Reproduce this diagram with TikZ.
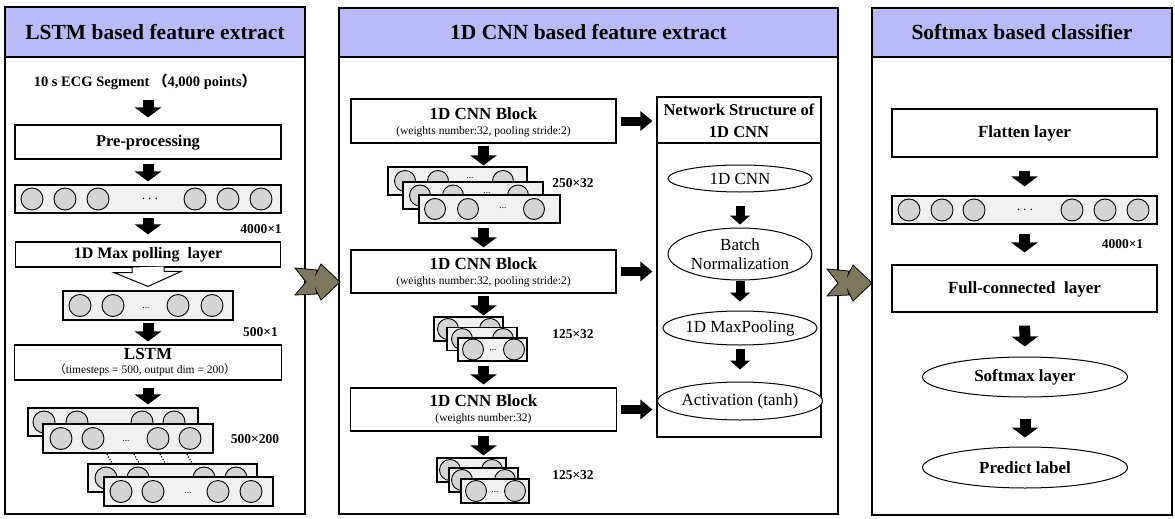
\documentclass[tikz,border=0pt]{standalone}
\usepackage{fontspec}
\setmainfont{Liberation Serif}
\newfontfamily\cjk{Noto Sans CJK SC}
\usetikzlibrary{arrows.meta,shapes.geometric}
\definecolor{hdr}{RGB}{186,186,247}
\definecolor{rowfill}{RGB}{241,241,241}
\definecolor{cfill}{RGB}{212,212,212}
\definecolor{chev}{RGB}{125,119,94}
\newcommand{\fs}[2]{\fontsize{#1}{#2}\selectfont}
\newcommand{\myLP}{{\cjk （}}
\newcommand{\myRP}{{\cjk ）}}
\begin{document}
\begin{tikzpicture}[x=1pt,y=-1pt,
  panel/.style={draw, line width=2pt, inner sep=0pt},
  hdrbox/.style={draw, line width=1.6pt, fill=hdr, inner sep=0pt, font=\fs{21.5}{24}\bfseries},
  box/.style={draw, line width=1.1pt, fill=white, inner sep=0pt},
  row/.style={draw, line width=1.1pt, fill=rowfill, inner sep=0pt},
  dot/.style={circle, draw, line width=0.9pt, fill=cfill, minimum size=22pt, inner sep=0pt},
  sdot/.style={dot, minimum size=21pt},
  barrow/.style={line width=11pt, -{Triangle[width=26pt,length=10pt]}},
  sarrow/.style={line width=9pt, -{Triangle[width=19pt,length=12pt]}},
  narrow/.style={line width=9pt, -{Triangle[width=20pt,length=9pt]}},
  ell/.style={ellipse, draw, line width=1pt, inner sep=0pt, fill=white},
  txt/.style={inner sep=0pt, anchor=base},
  bt/.style={txt, font=\fs{17}{20}\bfseries},
  st/.style={txt, font=\fs{11.5}{13}},
  dimt/.style={txt, font=\fs{13.5}{16}\bfseries},
  smalldots/.style={inner sep=0pt, font=\fs{9.5}{9.5}},
  chevron/.style={draw, line width=0.8pt, fill=chev, line join=miter},
]
\useasboundingbox (0,0) rectangle (1175,519);

% ---------------- panels ----------------
\node[panel, minimum width=300, minimum height=457] (p1) at (155,285.5) {};
\node[hdrbox, minimum width=300, minimum height=50] (h1) at (155,32) {LSTM based feature extract};
\node[panel, minimum width=499, minimum height=457] (p2) at (588.5,285.5) {};
\node[hdrbox, minimum width=499, minimum height=49] (h2) at (588.5,32.5) {1D CNN based feature extract};
\node[panel, minimum width=300, minimum height=458] (p3) at (1022,286) {};
\node[hdrbox, minimum width=300, minimum height=49] (h3) at (1022,32.5) {Softmax based classifier};

% ---------------- left panel ----------------
\node[txt, font=\fs{14.5}{17}\bfseries] (seg) at (145,86) {10 s ECG Segment \myLP4,000 points\myRP};
\node[box, minimum width=266, minimum height=34] (pre) at (148,142) {};
\node[txt, font=\fs{16.5}{19}\bfseries] (preT) at (148,146.7) {Pre-processing};
\node[row, minimum width=266, minimum height=28] (r1) at (148,199) {};
\foreach \x [count=\i] in {32,65,98,195,228,261} \node[dot] (r1c\i) at (\x,199) {};
\node[inner sep=0pt] (r1d) at (150,199) {\fs{15}{15}$\cdots$};
\node[dimt] (d1) at (261,233.3) {4000×1};
\node[box, minimum width=265, minimum height=25] (mp) at (148,254.5) {};
\node[txt, font=\fs{16}{19}\bfseries] (mpT) at (148,258.5) {1D Max polling\ \ layer};
\node[row, minimum width=170, minimum height=29] (r2) at (148,305.5) {};
\foreach \x [count=\i] in {80,113,178,212} \node[dot] (r2c\i) at (\x,305.5) {};
\node[smalldots] (r2d) at (146,308) {...};
\filldraw[fill=white, draw=black, line width=1pt] ([xshift=-16pt]mp.south) -- ++(0,5) -- ++(-18,0) -- ([yshift=4pt]r2.north) -- ++(33,-15) -- ++(-17,0) -- ++(0,-5);
\node[dimt] (d2) at (260.5,336) {500×1};
\node[box, minimum width=267, minimum height=35] (lstm) at (148,362.5) {};
\node[txt, font=\fs{17}{20}\bfseries] (lstmT) at (148,359) {LSTM};
\node[st] (lstmS) at (145,373) {\myLP timesteps = 500, output dim = 200\myRP};
% stacked outputs
\node[row, minimum width=170, minimum height=28] (sA) at (113,422) {};
\foreach \x [count=\i] in {44,77,142,174} \node[dot] (sAc\i) at (\x,422) {};
\node[row, minimum width=170, minimum height=29] (sB) at (128,438.5) {};
\foreach \x [count=\i] in {61,93,158,190} \node[dot] (sBc\i) at (\x,438.5) {};
\node[smalldots] (sBd) at (126,441) {...};
\foreach \x in {110,137,163,190} \draw[line width=1.2pt, dash pattern=on 1.2pt off 1.6pt] (\x-3,454) -- (\x+2,463);
\node[row, minimum width=169, minimum height=28] (sC) at (172.5,478) {};
\foreach \x [count=\i] in {106,138,204,236} \node[dot] (sCc\i) at (\x,478) {};
\node[row, minimum width=169, minimum height=29] (sD) at (188.5,491.5) {};
\foreach \x [count=\i] in {121,153,218,251} \node[dot] (sDc\i) at (\x,491.5) {};
\node[smalldots] (sDd) at (188,493) {...};
\node[dimt] (d3) at (255,443) {500×200};
% arrows
\draw[barrow, shorten <=11pt, shorten >=7pt] (seg.south -| pre.north) -- (pre);
\draw[barrow, shorten <=4pt, shorten >=3pt] (pre) -- (r1);
\draw[barrow, shorten <=4pt, shorten >=7pt] (r1) -- (mp);
\draw[barrow, shorten <=2pt, shorten >=3pt] (r2) -- (lstm);
\draw[barrow, shorten <=7pt, shorten >=3pt] (lstm) -- (lstm |- sA.north);

% ---------------- middle panel ----------------
\node[box, minimum width=265, minimum height=44] (b1) at (483.5,121) {};
\node[bt] (b1T) at (483.5,119) {1D CNN Block};
\node[st] (b1S) at (483.5,134) {(weights number:32, pooling stride:2)};
\node[row, minimum width=139, minimum height=28] (s1a) at (457.5,181) {};
\foreach \x [count=\i] in {405,438,503} \node[sdot] (s1ac\i) at (\x,181) {};
\node[smalldots] (s1ad) at (470,178) {...};
\node[row, minimum width=140, minimum height=27] (s1b) at (473,195.5) {};
\foreach \x [count=\i] in {420,453,518} \node[sdot] (s1bc\i) at (\x,195.5) {};
\node[smalldots] (s1bd) at (487,193) {...};
\node[row, minimum width=141, minimum height=28] (s1c) at (489.5,209) {};
\foreach \x [count=\i] in {435,468,534} \node[sdot] (s1cc\i) at (\x,209) {};
\node[smalldots] (s1cd) at (503,208) {...};
\node[dimt] (d4) at (573,187) {250×32};
\node[box, minimum width=265, minimum height=43] (b2) at (483.5,271.5) {};
\node[bt] (b2T) at (483.5,269) {1D CNN Block};
\node[st] (b2S) at (483.5,284) {(weights number:32, pooling stride:2)};
\node[row, minimum width=69, minimum height=24] (s2a) at (468.5,329) {};
\foreach \x [count=\i] in {448,490} \node[sdot] (s2ac\i) at (\x,329) {};
\node[row, minimum width=70, minimum height=23] (s2b) at (482,339) {};
\foreach \x [count=\i] in {462,503} \node[sdot] (s2bc\i) at (\x,339) {};
\node[row, minimum width=69, minimum height=23] (s2c) at (492.5,349.5) {};
\foreach \x [count=\i] in {473,514} \node[sdot] (s2cc\i) at (\x,349.5) {};
\node[smalldots] (s2cd) at (493,350) {...};
\node[dimt] (d5) at (573,338) {125×32};
\node[box, minimum width=266, minimum height=43] (b3) at (483.5,409.5) {};
\node[bt] (b3T) at (483.5,406) {1D CNN Block};
\node[st] (b3S) at (483.5,421.5) {(weights number:32)};
\node[row, minimum width=69, minimum height=24] (s3a) at (471.5,470) {};
\foreach \x [count=\i] in {450,492} \node[sdot] (s3ac\i) at (\x,470) {};
\node[row, minimum width=69, minimum height=24] (s3b) at (483.5,480) {};
\foreach \x [count=\i] in {462,505} \node[sdot] (s3bc\i) at (\x,480) {};
\node[row, minimum width=68, minimum height=24] (s3c) at (495,491) {};
\foreach \x [count=\i] in {476,515} \node[sdot] (s3cc\i) at (\x,491) {};
\node[smalldots] (s3cd) at (495,492) {...};
\node[dimt] (d6) at (573,479) {125×32};
% network structure
\node[box, minimum width=164, minimum height=46] (nsT) at (739,120) {};
\node[txt, font=\fs{16.5}{19}\bfseries] (nsT1) at (739,115.5) {Network Structure of};
\node[txt, font=\fs{16.5}{19}\bfseries] (nsT2) at (739,137.5) {1D CNN};
\node[box, minimum width=164, minimum height=294] (ns) at (739,290) {};
\node[ell, minimum width=144, minimum height=27, font=\fs{17}{19}] (e1) at (740,178.5) {1D CNN};
\node[ell, minimum width=144, minimum height=52, font=\fs{17}{19}, align=center] (e2) at (740,254) {Batch\\Normalization};
\node[ell, minimum width=144, minimum height=34, font=\fs{17}{19}] (e3) at (740,328) {1D MaxPooling};
\node[ell, minimum width=144, minimum height=38, font=\fs{17}{19}] (e4) at (740,401) {Activation (tanh)};
% arrows
\draw[barrow, shorten <=2pt, shorten >=1pt] (b1) -- (b1 |- s1a.north);
\draw[barrow, shorten <=4pt, shorten >=2pt] (b2 |- s1c.south) -- (b2);
\draw[barrow, shorten <=2pt, shorten >=1pt] (b2) -- (b2 |- s2a.north);
\draw[barrow, shorten <=4pt, shorten >=3pt] (b3 |- s2c.south) -- (b3);
\draw[barrow, shorten <=4pt, shorten >=2pt] (b3) -- (b3 |- s3a.north);
\draw[sarrow, shorten <=4pt, shorten >=4pt] (b1) -- (b1 -| ns.west);
\draw[sarrow, shorten <=4pt, shorten >=4pt] (b2) -- (b2 -| ns.west);
\draw[sarrow, shorten <=4pt, shorten >=4pt] (b3) -- (b3 -| ns.west);
\draw[narrow, shorten <=13.5pt, shorten >=3pt] (e1) -- (e2);
\draw[narrow, shorten <=0pt, shorten >=9pt] (e2) -- (e3);
\draw[narrow, shorten <=3pt, shorten >=12pt] (e3) -- (e4);

% ---------------- right panel ----------------
\node[box, minimum width=265, minimum height=48] (flat) at (1024.5,133) {};
\node[txt, font=\fs{17}{20}\bfseries] (flatT) at (1024.5,137) {Flatten layer};
\node[row, minimum width=265, minimum height=28] (r3) at (1024.5,210) {};
\foreach \x [count=\i] in {909,942,974,1072,1105,1138} \node[dot] (r3c\i) at (\x,210) {};
\node[inner sep=0pt] (r3d) at (1025,210) {\fs{15}{15}$\cdots$};
\node[dimt] (d7) at (1122.5,248) {4000×1};
\node[box, minimum width=265, minimum height=47] (fc) at (1024.5,288.5) {};
\node[txt, font=\fs{17}{20}\bfseries] (fcT) at (1024.5,293) {Full-connected\ \ layer};
\node[ell, minimum width=205, minimum height=40, font=\fs{17}{20}\bfseries] (sm) at (1025,377) {Softmax layer};
\node[ell, minimum width=205, minimum height=41, font=\fs{17}{20}\bfseries] (pl) at (1025,467.5) {Predict label};
\draw[barrow, shorten <=13pt, shorten >=9pt] (flat) -- (r3);
\draw[barrow, shorten <=9pt, shorten >=12pt] (r3) -- (fc);
\draw[barrow, shorten <=13pt, shorten >=10pt] (fc) -- (sm);
\draw[barrow, shorten <=21pt, shorten >=9pt] (sm) -- (pl);

% ---------------- chevrons between panels ----------------
\draw[chevron, shift={(318,282)}] (-23,-14) -- (-1,-12) -- (-2,-8) -- (3,-18) -- (22,0) -- (3,18) -- (-2,8) -- (-1,12) -- (-23,13) -- (-12,0) -- cycle;
\draw[chevron, shift={(850,283)}] (-23,-14) -- (-1,-12) -- (-2,-8) -- (3,-18) -- (22,0) -- (3,18) -- (-2,8) -- (-1,12) -- (-23,13) -- (-12,0) -- cycle;
\end{tikzpicture}
\end{document}
